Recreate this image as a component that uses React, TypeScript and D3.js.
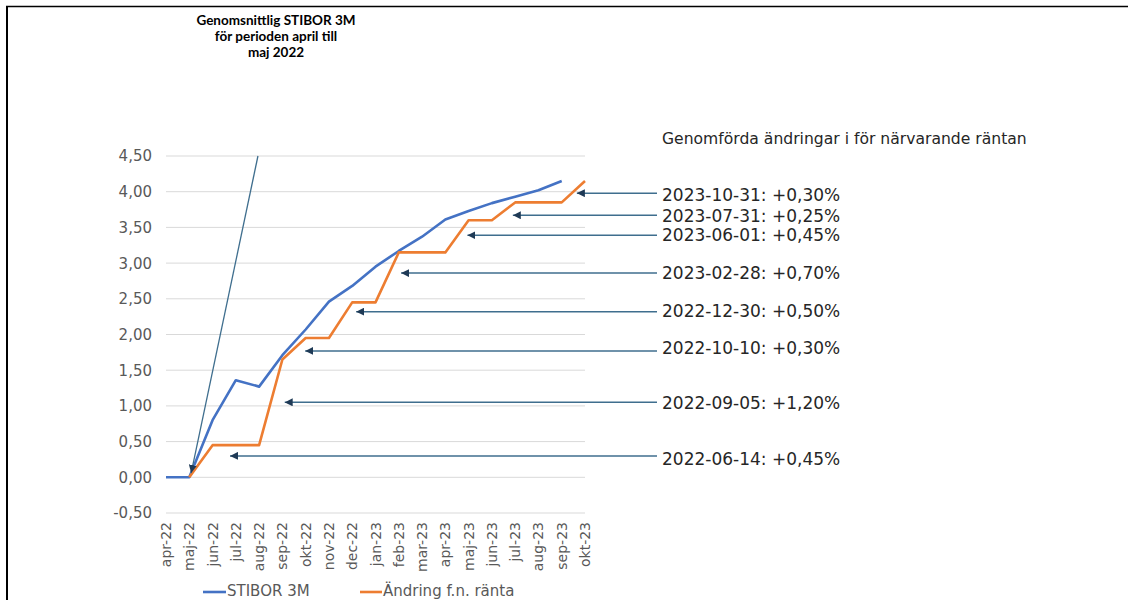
import React from "react";
import * as d3 from "d3";

const categories = ["apr-22","maj-22","jun-22","jul-22","aug-22","sep-22","okt-22","nov-22","dec-22","jan-23","feb-23","mar-23","apr-23","maj-23","jun-23","jul-23","aug-23","sep-23","okt-23"];
const stibor: (number | null)[] = [0, 0, 0.80, 1.36, 1.27, 1.71, 2.07, 2.46, 2.68, 2.95, 3.17, 3.37, 3.61, 3.73, 3.84, 3.93, 4.02, 4.15, null];
const andring: (number | null)[] = [null, 0, 0.45, 0.45, 0.45, 1.65, 1.95, 1.95, 2.45, 2.45, 3.15, 3.15, 3.15, 3.60, 3.60, 3.85, 3.85, 3.85, 4.15];
const yTicks = [-0.5, 0, 0.5, 1, 1.5, 2, 2.5, 3, 3.5, 4, 4.5];

// annotation: label, arrow level (value), arrow tip (category index), label baseline level (value)
const annLabels = ["2023-10-31: +0,30%","2023-07-31: +0,25%","2023-06-01: +0,45%","2023-02-28: +0,70%","2022-12-30: +0,50%","2022-10-10: +0,30%","2022-09-05: +1,20%","2022-06-14: +0,45%"];
const annArrowLevel = [3.98, 3.67, 3.39, 2.86, 2.32, 1.77, 1.05, 0.30];
const annTipIndex = [17.65, 14.9, 12.95, 10.1, 8.17, 5.98, 5.1, 2.75];
const annLabelLevel = [3.87, 3.57, 3.31, 2.78, 2.25, 1.73, 0.96, 0.17];

const noteTitle = ["Genomsnittlig STIBOR 3M", "för perioden april till", "maj 2022"];
const diagFrom = { idx: 3.95, val: 4.5 };
const diagTo = { idx: 1.08, val: 0.06 };

const rightTitle = "Genomförda ändringar i för närvarande räntan";
const seriesNames = ["STIBOR 3M", "Ändring f.n. ränta"];
const BLUE = "#4472C4";
const ORANGE = "#ED7D31";
const ARROW = "#3F6E8E";

export default function App() {
  const x = d3.scaleLinear().domain([0, categories.length - 1]).range([166, 585]);
  const y = d3.scaleLinear().domain([-0.5, 4.5]).range([513, 156]);
  const line = d3
    .line<number | null>()
    .defined((d) => d !== null)
    .x((_, i) => x(i))
    .y((d) => y(d as number));

  const font = "'DejaVu Sans', Verdana, sans-serif";
  const arrowStartX = 657;
  const labelX = 662;
  const fmt = (t: number) => d3.format(".2f")(t).replace(".", ",").replace("\u2212", "-");

  return (
    <svg width={1128} height={600} style={{ position: "absolute", left: 0, top: 0, background: "#fff" }}>
      <defs>
        <marker id="ah2" viewBox="0 0 10 10" refX="10" refY="5" markerWidth="8" markerHeight="8" markerUnits="userSpaceOnUse" orient="auto">
          <path d="M0,0 L10,5 L0,10 z" fill="#1F3A56" />
        </marker>
      </defs>
      <rect x={0} y={0} width={1128} height={600} fill="#fff" />
      {/* frame */}
      <line x1={6} y1={6.5} x2={1128} y2={6.5} stroke="#000" strokeWidth={1.5} />
      <line x1={7} y1={6} x2={7} y2={600} stroke="#000" strokeWidth={2} />

      {/* gridlines */}
      {yTicks.map((t) => (
        <line key={t} x1={166} x2={585} y1={y(t)} y2={y(t)} stroke="#D9D9D9" strokeWidth={1} />
      ))}
      {/* y labels */}
      {yTicks.map((t) => (
        <text key={"l" + t} x={152} y={y(t)} dy="0.36em" textAnchor="end" fontFamily={font} fontSize={15} fill="#595959">
          {fmt(t)}
        </text>
      ))}
      {/* x labels */}
      {categories.map((c, i) => (
        <text key={c} transform={`translate(${x(i) + 5},${522}) rotate(-90)`} textAnchor="end" fontFamily={font} fontSize={14} fill="#595959">
          {c}
        </text>
      ))}

      {/* series */}
      <path d={line(stibor) || ""} fill="none" stroke={BLUE} strokeWidth={2.6} strokeLinejoin="round" />
      <path d={line(andring) || ""} fill="none" stroke={ORANGE} strokeWidth={2.6} strokeLinejoin="round" />

      {/* diagonal arrow */}
      <line x1={x(diagFrom.idx)} y1={y(diagFrom.val)} x2={x(diagTo.idx)} y2={y(diagTo.val)} stroke={ARROW} strokeWidth={1.3} markerEnd="url(#ah2)" />

      {/* annotation arrows */}
      {annLabels.map((l, i) => (
        <g key={l}>
          <line x1={arrowStartX} y1={y(annArrowLevel[i])} x2={x(annTipIndex[i])} y2={y(annArrowLevel[i])} stroke={ARROW} strokeWidth={1.5} markerEnd="url(#ah2)" />
          <text x={labelX} y={y(annLabelLevel[i])} fontFamily={font} fontSize={17} fill="#262626">
            {l}
          </text>
        </g>
      ))}
      <text x={662} y={144} fontFamily={font} fontSize={15.6} fill="#262626">
        {rightTitle}
      </text>

      {/* note title */}
      {noteTitle.map((t, i) => (
        <text key={t} x={276} y={25 + i * 16} textAnchor="middle" fontFamily="Lato, 'Open Sans', sans-serif" fontWeight="bold" fontSize={13.5} fill="#000">
          {t}
        </text>
      ))}

      {/* legend */}
      <line x1={203} x2={226} y1={592} y2={592} stroke={BLUE} strokeWidth={2.6} />
      <text x={227} y={596} fontFamily={font} fontSize={15} fill="#595959">{seriesNames[0]}</text>
      <line x1={360} x2={382} y1={592} y2={592} stroke={ORANGE} strokeWidth={2.6} />
      <text x={383} y={596} fontFamily={font} fontSize={15} fill="#595959">{seriesNames[1]}</text>
    </svg>
  );
}
